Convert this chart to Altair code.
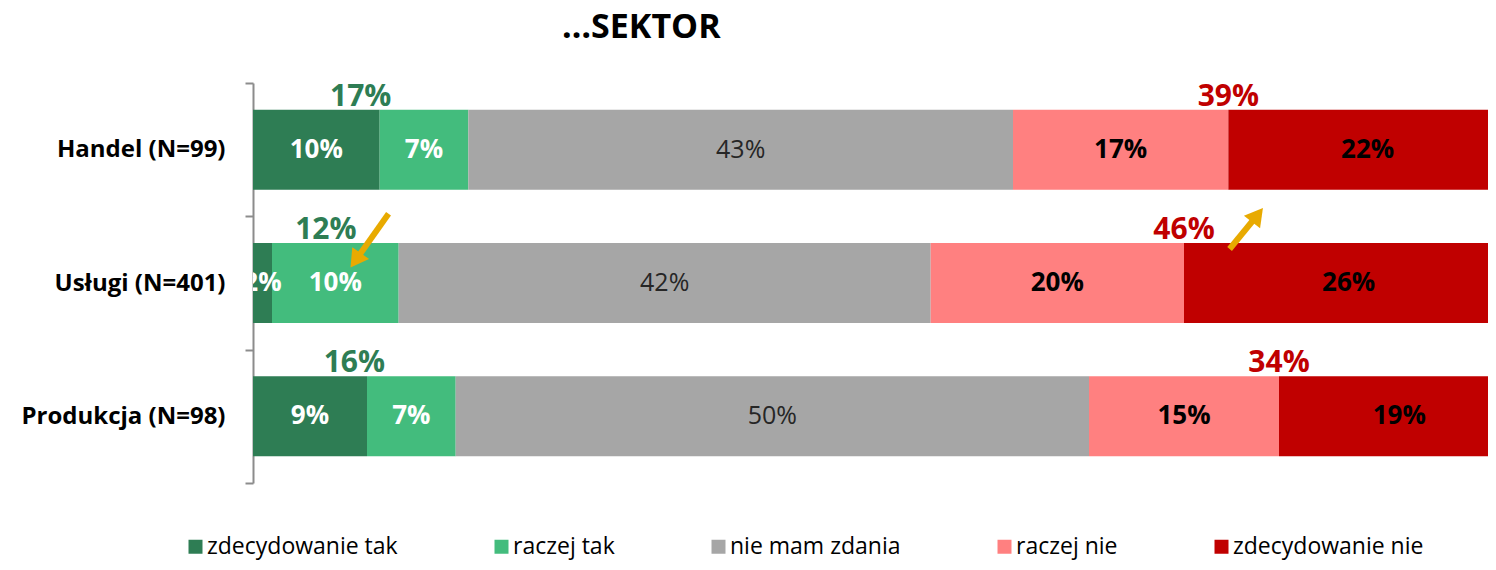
import altair as alt
import pandas as pd

# ---- data ----
categories = ["Handel (N=99)", "Usługi (N=401)", "Produkcja (N=98)"]
series = ["zdecydowanie tak", "raczej tak", "nie mam zdania", "raczej nie", "zdecydowanie nie"]
zdecydowanie_tak = [10, 1.5, 9]
raczej_tak = [7, 10, 7]
nie_mam_zdania = [43, 42, 50]
raczej_nie = [17, 20, 15]
zdecydowanie_nie = [22, 26, 19]
colors = ["#2E7D54", "#43BC7D", "#A6A6A6", "#FF8080", "#C00000"]

# annotation arrows (x in %, y in rows: 0 = top edge of first row band)
arrow_x_tail = [10.7, 77.1]
arrow_y_tail = [0.98, 1.245]
arrow_x_head = [8.1, 79.3]
arrow_y_head = [1.33, 0.99]
arrow_angle = [215, 38]

values = [zdecydowanie_tak, raczej_tak, nie_mam_zdania, raczej_nie, zdecydowanie_nie]
rows = []
for i, c in enumerate(categories):
    for j, s in enumerate(series):
        rows.append({"category": c, "series": s, "order": j, "value": values[j][i]})
df = pd.DataFrame(rows)

tot = pd.DataFrame({
    "category": categories,
    "green_total": [a + b for a, b in zip(zdecydowanie_tak, raczej_tak)],
    "red_total": [a + b for a, b in zip(raczej_nie, zdecydowanie_nie)],
})
tot["green_pos"] = tot["green_total"] / 2
tot["red_pos"] = [a + b + c + d for a, b, c, d in zip(zdecydowanie_tak, raczej_tak, nie_mam_zdania, raczej_nie)]

arrows = pd.DataFrame({"xt": arrow_x_tail, "yt": arrow_y_tail, "xh": arrow_x_head,
                       "yh": arrow_y_head, "angle": arrow_angle})

FONT = "Open Sans"
xscale = alt.Scale(domain=[0, 97.5], nice=False, zero=False)
yscale = alt.Scale(domain=categories, paddingInner=0, paddingOuter=0)
yaxis = alt.Axis(title=None, labelFont=FONT, labelFontSize=24, labelFontWeight="bold",
                 labelColor="black", labelPadding=20, labelLimit=400,
                 tickSize=8, tickWidth=2, tickColor="#8C8C8C",
                 domainColor="#8C8C8C", domainWidth=2, tickBand="extent", grid=False)
y_enc = alt.Y("category:N", sort=categories, scale=yscale, axis=yaxis)

base = alt.Chart(df).transform_stack(
    stack="value", groupby=["category"], as_=["x0", "x1"],
    sort=[alt.SortField("order", order="ascending")]
).transform_calculate(
    mid="(datum.x0 + datum.x1) / 2",
    label="format(datum.value, '.0f') + '%'"
)

bars = base.mark_bar(height={"band": 0.6}, clip=True).encode(
    x=alt.X("x0:Q", scale=xscale, axis=None),
    x2="x1:Q",
    y=y_enc,
    color=alt.Color("series:N", scale=alt.Scale(domain=series, range=colors),
                    legend=alt.Legend(title=None, orient="none", legendX=-69, legendY=452,
                                      direction="horizontal", columnPadding=92,
                                      symbolType="square", symbolSize=196, symbolStrokeWidth=0,
                                      labelFont=FONT, labelFontSize=23, labelColor="black",
                                      labelOffset=0, labelLimit=400)),
    order=alt.Order("order:Q"),
)

seg_green = base.transform_filter("datum.order <= 1").mark_text(
    font=FONT, fontSize=26, fontWeight="bold", color="white", clip=True
).encode(x=alt.X("mid:Q", scale=xscale, axis=None), y=y_enc, text="label:N")

seg_gray = base.transform_filter("datum.order == 2").mark_text(
    font=FONT, fontSize=25, color="#262626"
).encode(x=alt.X("mid:Q", scale=xscale, axis=None), y=y_enc, text="label:N")

seg_red = base.transform_filter("datum.order >= 3").mark_text(
    font=FONT, fontSize=26, fontWeight="bold", color="black"
).encode(x=alt.X("mid:Q", scale=xscale, axis=None), y=y_enc, text="label:N")

tot_base = alt.Chart(tot).transform_calculate(
    glabel="format(datum.green_total, '.0f') + '%'",
    rlabel="format(datum.red_total, '.0f') + '%'",
)
tot_green = tot_base.mark_text(font=FONT, fontSize=30, fontWeight="bold", color="#2E7D54",
                               baseline="alphabetic", dy=-44).encode(
    x=alt.X("green_pos:Q", scale=xscale, axis=None), y=y_enc, text="glabel:N")
tot_red = tot_base.mark_text(font=FONT, fontSize=30, fontWeight="bold", color="#C00000",
                             baseline="alphabetic", dy=-44).encode(
    x=alt.X("red_pos:Q", scale=xscale, axis=None), y=y_enc, text="rlabel:N")

ay = alt.Scale(domain=[0, 3], reverse=True, nice=False, zero=False)
arrow_shaft = alt.Chart(arrows).mark_rule(strokeWidth=6, color="#E8AA00").encode(
    x=alt.X("xt:Q", scale=xscale, axis=None), x2="xh:Q",
    y=alt.Y("yt:Q", scale=ay, axis=None), y2="yh:Q")
arrow_head = alt.Chart(arrows).mark_point(shape="triangle-up", filled=True, size=420,
                                          opacity=1, color="#E8AA00").encode(
    x=alt.X("xh:Q", scale=xscale, axis=None),
    y=alt.Y("yh:Q", scale=ay, axis=None),
    angle=alt.Angle("angle:Q", scale=None))

main = alt.layer(bars, seg_green, seg_gray, seg_red, tot_green, tot_red)
arr = alt.layer(arrow_shaft, arrow_head)

chart = alt.layer(main, arr).resolve_scale(y="independent").properties(
    width=1235, height=400,
    title=alt.TitleParams("…SEKTOR", font=FONT, fontSize=34, fontWeight="bold", color="black",
                          anchor="start", frame="group", dx=309, offset=26),
    autosize=alt.AutoSizeParams(type="none"),
    padding={"left": 245, "top": 75, "right": 0, "bottom": 79},
).configure_view(stroke=None)

chart.save("out.html", embed_options={"renderer": "svg", "actions": False})
